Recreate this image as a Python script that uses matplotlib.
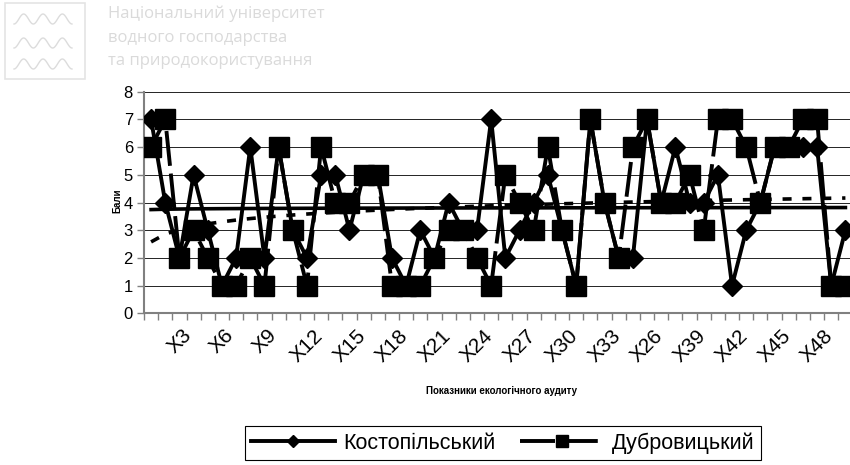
import matplotlib.pyplot as plt
import numpy as np
from matplotlib.lines import Line2D
from matplotlib.patches import Rectangle

plt.rcParams['font.family'] = ['Liberation Sans', 'DejaVu Sans']

# бали по показниках X1..X50
kostopil = [7, 4, 2, 5, 3, 1, 2, 6, 2, 6,
            3, 2, 5, 5, 3, 5, 5, 2, 1, 3,
            2, 4, 3, 3, 7, 2, 3, 4, 5, 3,
            1, 7, 4, 2, 2, 7, 4, 6, 4, 4,
            5, 1, 3, 4, 6, 6, 6, 6, 1, 3]
dubrovytsia = [6, 7, 2, 3, 2, 1, 1, 2, 1, 6,
               3, 1, 6, 4, 4, 5, 5, 1, 1, 1,
               2, 3, 3, 2, 1, 5, 4, 3, 6, 3,
               1, 7, 4, 2, 6, 7, 4, 4, 5, 3,
               7, 7, 6, 4, 6, 6, 7, 7, 1, 1]
series_names = ['Костопільський', 'Дубровицький']

# підписи осі X (як в оригіналі, включно з "X26")
tick_pos = [3, 6, 9, 12, 15, 18, 21, 24, 27, 30, 33, 36, 39, 42, 45, 48]
tick_labels = ['X3', 'X6', 'X9', 'X12', 'X15', 'X18', 'X21', 'X24', 'X27',
               'X30', 'X33', 'X26', 'X39', 'X42', 'X45', 'X48']

W, H = 850, 465
fig = plt.figure(figsize=(W / 100, H / 100), dpi=100)

# watermark
wm = '#dadada'
wm_font = ['Open Sans', 'DejaVu Sans']
for yc, line in [(14, 'Національний університет'), (38, 'водного господарства'),
                 (61, 'та природокористування')]:
    fig.text(108 / W, 1 - yc / H, line, color=wm, fontsize=12, family=wm_font, va='center')
fig.add_artist(Rectangle((5 / W, 1 - 79 / H), 80 / W, 76 / H, transform=fig.transFigure,
                         fill=False, edgecolor='#e4e4e4', lw=1.2))
t = np.linspace(0, 1, 121)
wave = np.cos(t * 3 * 2 * np.pi)
for yc in [19, 43, 64]:
    fig.add_artist(Line2D((14 + 58 * t) / W, 1 - (yc + 5 * wave) / H,
                          transform=fig.transFigure, color='#dcdcdc', lw=1.0))

ax = fig.add_axes([144 / W, 1 - 313.3 / H, 708.5 / W, 221.6 / H])
x = np.arange(1, len(kostopil) + 1)

ax.plot(x, kostopil, color='black', lw=2.8, marker='D', markersize=10,
        markerfacecolor='black', markeredgecolor='black', zorder=3)
ax.plot(x, dubrovytsia, color='black', lw=2.8, dashes=(9, 2), marker='s',
        markersize=14, markerfacecolor='black', markeredgecolor='black', zorder=4)

# логарифмічні лінії тренду
lx = np.log(x)
b, a = np.polyfit(lx, kostopil, 1)
ax.plot(x, a + b * lx, color='black', lw=2.6, zorder=5)
b, a = np.polyfit(lx, dubrovytsia, 1)
ax.plot(x, a + b * lx, color='black', lw=2.6, dashes=(2.5, 3), zorder=5)

ax.set_xlim(0.5, 50.5)
ax.set_ylim(0, 8)
ax.set_yticks(range(0, 9))
ax.yaxis.grid(True, color='black', lw=0.6)
ax.set_axisbelow(True)
for s in ['top', 'right']:
    ax.spines[s].set_visible(False)
for s in ['left', 'bottom']:
    ax.spines[s].set_color('#808080')
    ax.spines[s].set_linewidth(1.5)

ax.set_xticks(tick_pos)
ax.set_xticklabels(tick_labels, rotation=45, ha='center', va='top')
ax.set_xticks(np.arange(0.5, 51, 1), minor=True)
ax.tick_params(axis='x', which='major', length=0, labelsize=15, pad=9)
ax.tick_params(axis='x', which='minor', length=5, width=1, color='#808080')
ax.tick_params(axis='y', length=5, width=1, color='#808080', labelsize=12, pad=3)

fig.text(502 / W, 1 - 391 / H, 'Показники екологічного аудиту', fontsize=7,
         fontweight='bold', ha='center', va='center')
fig.text(117 / W, 1 - 201 / H, 'Бали', fontsize=7, fontweight='bold',
         rotation=90, ha='center', va='center')

handles = [Line2D([], [], color='black', lw=2.8, marker='D', markersize=6),
           Line2D([], [], color='black', lw=2.8, dashes=(9, 2), marker='s', markersize=8)]
leg = fig.legend(handles, series_names, loc='center', bbox_to_anchor=(503 / W, 1 - 443 / H),
                 ncol=2, frameon=True, fancybox=False, edgecolor='black', framealpha=1,
                 fontsize=15.5, handlelength=3.9, columnspacing=1.1, handletextpad=0.4,
                 borderpad=0.3)
leg.get_frame().set_linewidth(0.8)

fig.savefig('out.png', dpi=100)
